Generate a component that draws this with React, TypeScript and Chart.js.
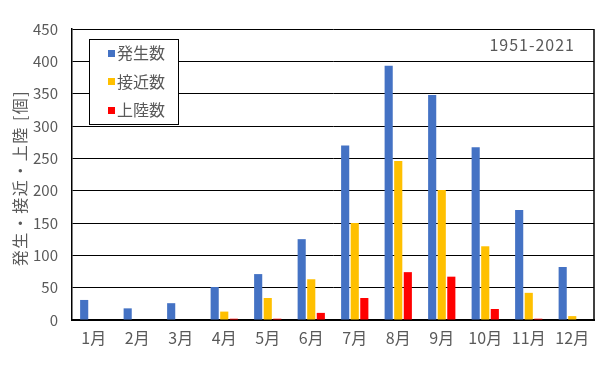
import React, { useEffect, useRef } from "react";
import { Chart, registerables } from "chart.js";

Chart.register(...registerables);

const months = ["1月", "2月", "3月", "4月", "5月", "6月", "7月", "8月", "9月", "10月", "11月", "12月"];
const formed = [31, 18, 26, 51, 71, 125, 270, 393, 348, 267, 170, 82];
const approached = [0, 0, 0, 13, 34, 63, 150, 246, 201, 114, 42, 6];
const landed = [0, 0, 0, 2, 2, 11, 34, 74, 67, 17, 2, 0];
const seriesLabels = ["発生数", "接近数", "上陸数"];
const seriesColors = ["#4472C4", "#FFC000", "#FF0000"];
const yMax = 450;
const yStep = 50;
const periodText = "1951-2021";
const yTitle = "発生・接近・上陸 [個]";

const FONT = "'Noto Sans CJK JP', 'Noto Sans', sans-serif";
const TEXT = "#595959";

const overlayPlugin = {
  id: "overlay",
  afterDraw(chart: any) {
    const ctx = chart.ctx;
    const a = chart.chartArea;
    ctx.save();
    // right border
    ctx.strokeStyle = "#000";
    ctx.lineWidth = 1.5;
    ctx.beginPath();
    ctx.moveTo(a.right, a.top);
    ctx.lineTo(a.right, a.bottom);
    ctx.stroke();

    // y title
    ctx.fillStyle = TEXT;
    ctx.font = `16px ${FONT}`;
    ctx.textAlign = "center";
    ctx.textBaseline = "middle";
    ctx.save();
    ctx.translate(20, 178);
    ctx.rotate(-Math.PI / 2);
    (ctx as any).letterSpacing = "1.5px";
    ctx.fillText(yTitle, 0, 0);
    ctx.restore();

    // period
    ctx.save();
    ctx.font = `16px ${FONT}`;
    ctx.textAlign = "right";
    (ctx as any).letterSpacing = "1px";
    ctx.fillText(periodText, 575, 45);
    ctx.restore();

    // legend
    const lx = 89.5, ly = 39.5, lw = 89, lh = 85;
    ctx.fillStyle = "#fff";
    ctx.fillRect(lx, ly, lw, lh);
    ctx.strokeStyle = "#000";
    ctx.lineWidth = 1;
    ctx.strokeRect(lx, ly, lw, lh);
    ctx.font = `16px ${FONT}`;
    ctx.textAlign = "left";
    ctx.textBaseline = "middle";
    chart.data.datasets.forEach((ds: any, i: number) => {
      const cy = 53 + i * 28.5;
      ctx.fillStyle = ds.backgroundColor;
      ctx.fillRect(108, Math.round(cy - 3.5), 7, 7);
      ctx.fillStyle = TEXT;
      ctx.fillText(ds.label, 117, cy);
    });
    ctx.restore();
  },
};

export default function App() {
  const ref = useRef<HTMLCanvasElement | null>(null);
  useEffect(() => {
    if (!ref.current) return;
    const chart = new Chart(ref.current, {
      type: "bar",
      data: {
        labels: months,
        datasets: [
          { label: seriesLabels[0], data: formed, backgroundColor: seriesColors[0] },
          { label: seriesLabels[1], data: approached, backgroundColor: seriesColors[1] },
          { label: seriesLabels[2], data: landed, backgroundColor: seriesColors[2] },
        ],
      },
      options: {
        responsive: false,
        animation: false,
        devicePixelRatio: 1,
        layout: { padding: { top: 29, right: 15, left: 0, bottom: 0 } },
        datasets: { bar: { categoryPercentage: 0.66, barPercentage: 0.85 } },
        plugins: { legend: { display: false }, tooltip: { enabled: false }, title: { display: false } },
        scales: {
          x: {
            grid: { display: false, drawTicks: false },
            border: { display: true, color: "#000", width: 2 },
            ticks: { color: TEXT, font: { family: FONT, size: 16 }, padding: 8, maxRotation: 0, autoSkip: false },
            afterFit: (s: any) => { s.height = 55; },
          },
          y: {
            min: 0,
            max: yMax,
            ticks: { stepSize: yStep, color: TEXT, font: { family: FONT, size: 15 }, padding: 14 },
            grid: { color: "#000", lineWidth: 1, drawTicks: false },
            border: { display: true, color: "#000", width: 1.5 },
            afterFit: (s: any) => { s.width = 72; },
          },
        },
      },
      plugins: [overlayPlugin],
    });
    return () => chart.destroy();
  }, []);
  return (
    <div style={{ position: "absolute", left: 0, top: 0, width: 609, height: 375, background: "#fff" }}>
      <canvas ref={ref} width={609} height={375} style={{ width: 609, height: 375, display: "block" }} />
    </div>
  );
}
